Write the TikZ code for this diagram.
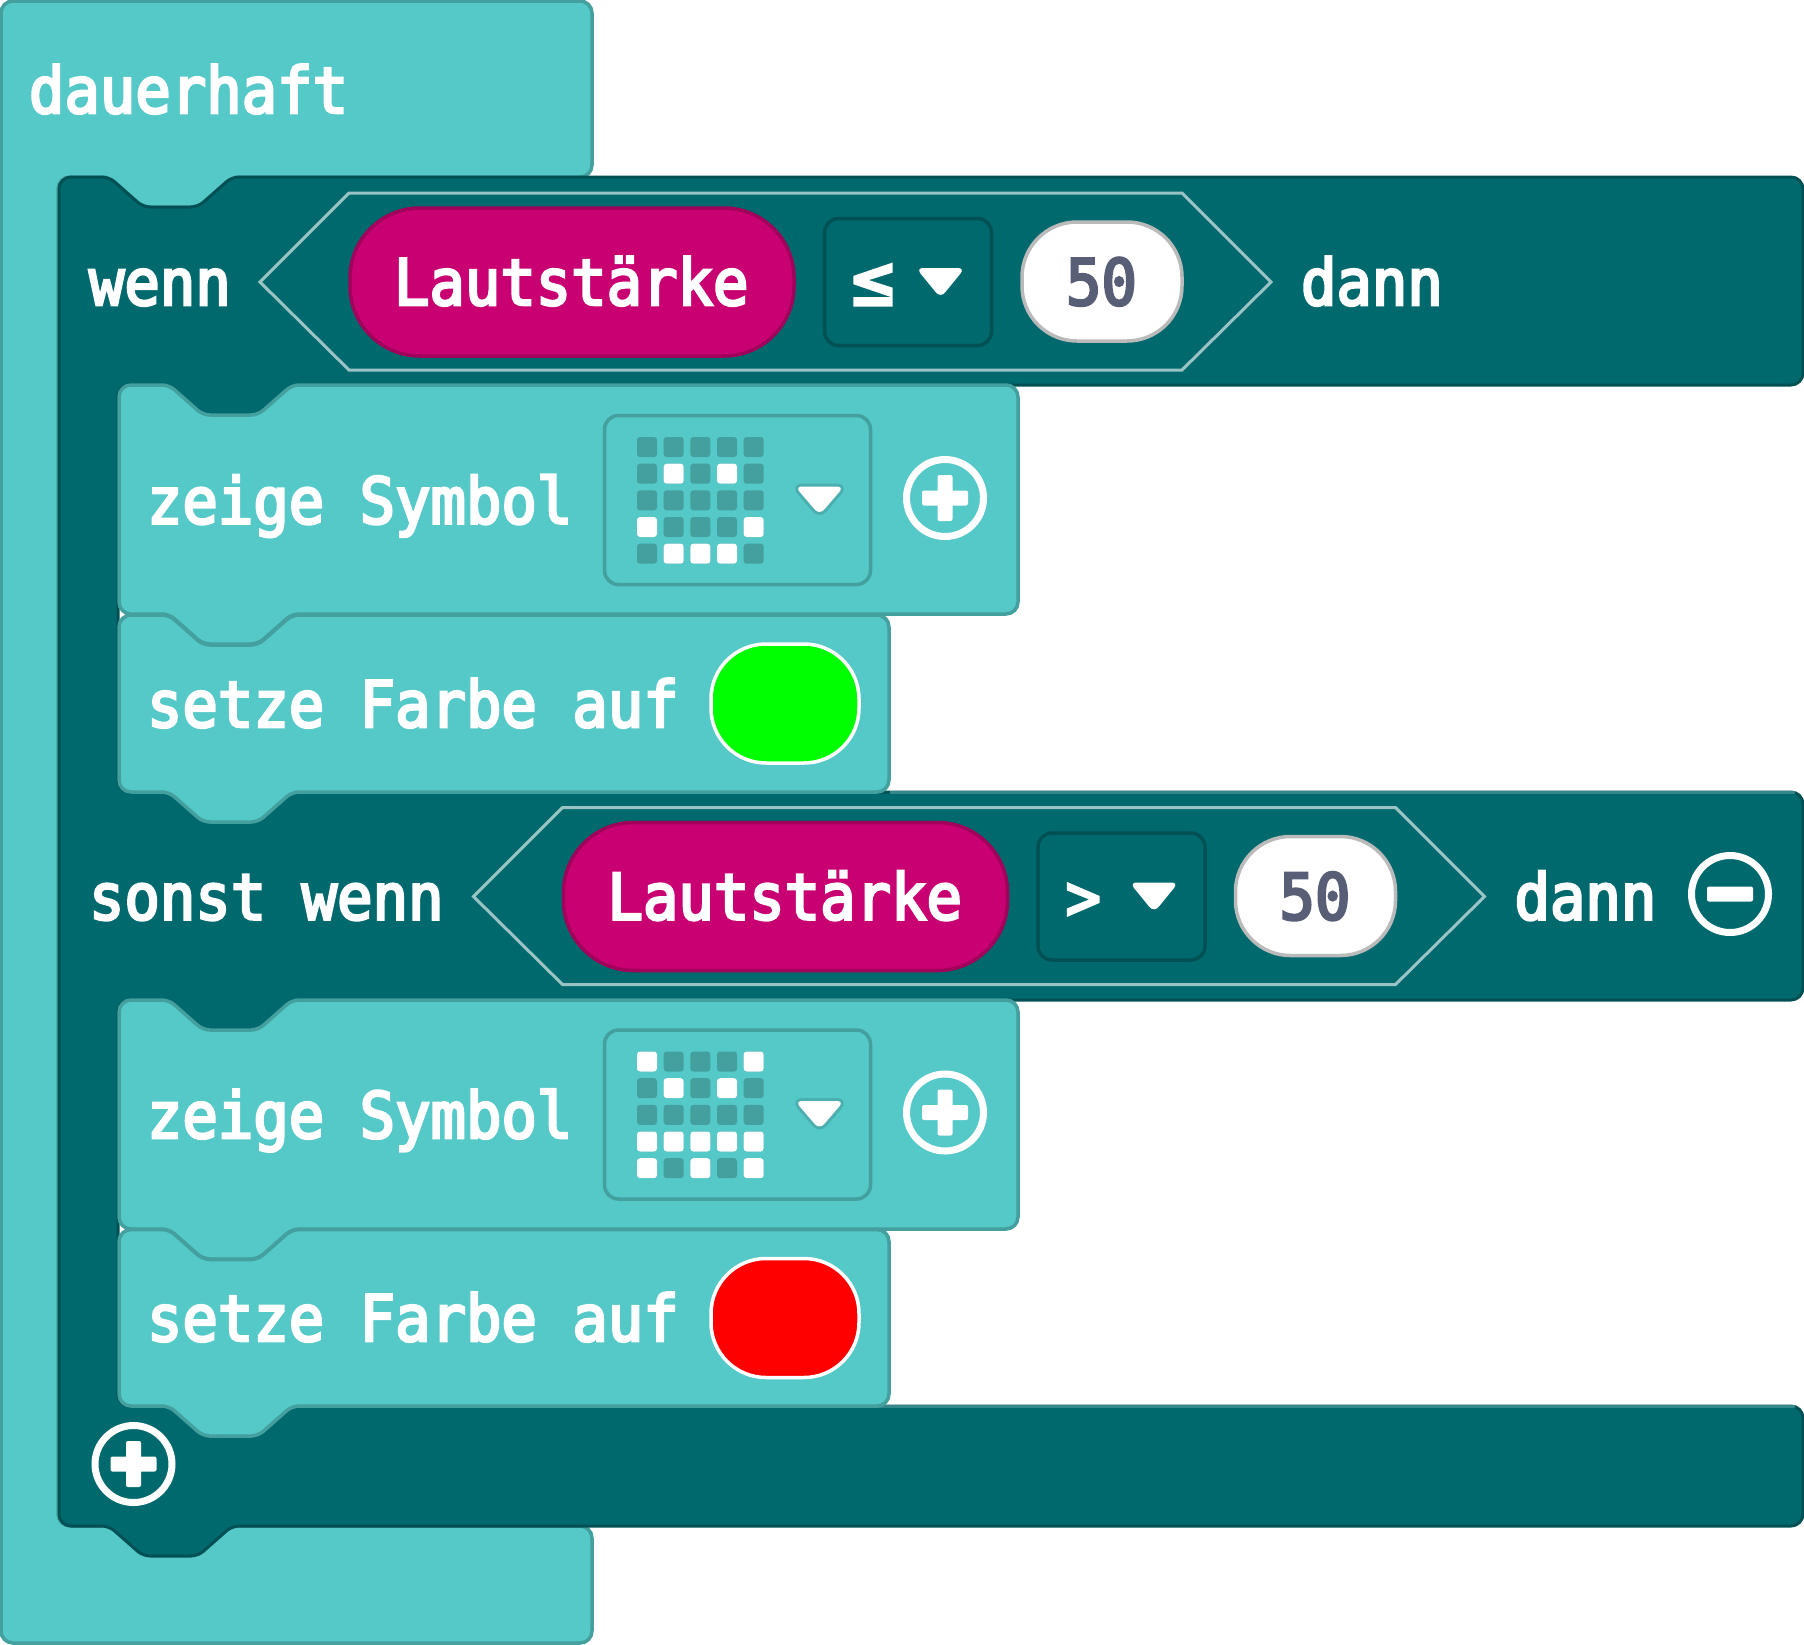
\documentclass[tikz,border=0pt]{standalone}
\usepackage{fontspec}
\newfontfamily\blockfont[FakeBold=4,FakeStretch=0.92]{DejaVu Sans Mono}
\definecolor{lightteal}{HTML}{55C8C8}
\definecolor{lightedge}{HTML}{449F9F}
\definecolor{darkteal}{HTML}{00696D}
\definecolor{darkedge}{HTML}{005054}
\definecolor{pinkfill}{HTML}{C90072}
\definecolor{pinkedge}{HTML}{A1005B}
\definecolor{numtext}{HTML}{575E75}
\definecolor{hexedge}{HTML}{99C3C5}
\definecolor{darkhi}{HTML}{33878A}
\tikzset{
  blocktext/.style={anchor=base west,inner sep=0pt,outer sep=0pt,text=white,font=\blockfont\fontsize{64}{66}\selectfont},
  numtextstyle/.style={blocktext,text=numtext},
  lightblock/.style={fill=lightteal,draw=lightedge,line width=3.5pt,rounded corners=12pt},
  darkblock/.style={fill=darkteal,draw=darkedge,line width=3pt,rounded corners=12pt},
  hexa/.style={draw=hexedge,line width=3pt,line join=miter},
  pinkpill/.style={fill=pinkfill,draw=pinkedge,line width=3.5pt,rounded corners=70pt},
  numpill/.style={fill=white,draw=black!27,line width=3.5pt,rounded corners=55pt},
  colorpill/.style={draw=white,line width=3.5pt,rounded corners=55pt},
  ddbox/.style={draw=darkedge,line width=3.5pt,rounded corners=14pt},
  imgbox/.style={draw=lightedge,line width=3.5pt,rounded corners=14pt},
  arrowwhite/.style={fill=white,rounded corners=7pt},
  arrowhalo/.style={fill=white,rounded corners=7pt,preaction={draw=lightedge!60!lightteal,line width=6pt,line join=round}},
  ring/.style={draw=white,line width=7pt},
  bar/.style={fill=white,rounded corners=2pt},
  cellon/.style={fill=white,rounded corners=3pt},
  celloff/.style={fill=lightedge,rounded corners=3pt},
}
% notch fragments at left offset #1 on the horizontal line y=#2
\newcommand{\notchR}[2]{[rounded corners=7pt] -- (#1+50,#2) -- (#1+84,#2+30) -- (#1+139,#2+30) -- (#1+173,#2) [rounded corners=12pt]}
\newcommand{\notchL}[2]{[rounded corners=7pt] -- (#1+173,#2) -- (#1+139,#2+30) -- (#1+84,#2+30) -- (#1+50,#2) [rounded corners=12pt]}
\newcommand{\condrow}[4]{%
  \begin{scope}[shift={(#1,#2)}]
    \draw[hexa] (260,282) -- (349,193) -- (1182,193) -- (1271,282) -- (1182,370) -- (349,370) -- cycle;
    \draw[pinkpill] (350,208) rectangle (794,356);
    \node[blocktext] (#4vol) at (394,305) {Lautstärke};
    \draw[ddbox] (824.5,218.5) rectangle (991.5,345.5);
    \node[blocktext] (#4cmp) at (852,305) {#3};
    \fill[arrowwhite] (916,268) -- (965,268) -- (940.5,298) -- cycle;
    \draw[numpill] (1022,222) rectangle (1182,341);
    \node[numtextstyle] (#4num) at (1066,305) {50};
    \node[blocktext] (#4dann) at (1301,305) {dann};
  \end{scope}}
\newcommand{\showrow}[2]{%
  \begin{scope}[shift={(0,#1)}]
    \node[blocktext] (#2text) at (147,523.5) {zeige Symbol};
    \draw[imgbox] (604.5,415.5) rectangle (870.5,584.5);
    \foreach \cx in {0,...,4}{\foreach \cy in {0,...,4}{
      \fill[celloff] (637+\cx*26.67,437+\cy*26.67) rectangle ++(20,20);}}
    \fill[arrowhalo] (795,486.5) -- (844,486.5) -- (819.5,515) -- cycle;
    \draw[ring] (945,498) circle (38.5);
    \fill[bar] (922,490.5) rectangle (968,505.5);
    \fill[bar] (937.5,475) rectangle (952.5,521);
  \end{scope}}
\newcommand{\litcell}[3]{\fill[cellon] (637+#1*26.67,437+#2*26.67+#3) rectangle ++(20,20);}
\begin{document}
\begin{tikzpicture}[x=1pt,y=-1pt]
\useasboundingbox (0,0) rectangle (1804,1644);
\fill[white] (0,0) rectangle (1804,1644);
% outer block
\draw[lightblock] (1,1) -- (592,1) -- (592,177) \notchL{59}{177} -- (58,177) -- (58,1526) -- (592,1526) -- (592,1643) -- (1,1643) -- cycle;
% dark if block
\draw[darkblock] (59,177) \notchR{59}{177} -- (1803,177) -- (1803,385) \notchL{119}{385} -- (118,385) -- (118,792)
   -- (1803,792) -- (1803,1000) \notchL{119}{1000} -- (118,1000) -- (118,1406) -- (1803,1406) -- (1803,1526) \notchL{59}{1526} -- (59,1526) -- cycle;
\draw[line width=3pt,draw=darkhi] (890,792) -- (1795,792);
\draw[line width=3pt,draw=darkhi] (290,1406.5) -- (1795,1406.5);
% statement blocks
\draw[lightblock] (119,385) \notchR{119}{385} -- (1018,385) -- (1018,614) \notchL{119}{614} -- (119,614) -- cycle;
\draw[lightblock] (119,615) \notchR{119}{615} -- (889,615) -- (889,792) \notchL{119}{792} -- (119,792) -- cycle;
\draw[lightblock] (119,1000) \notchR{119}{1000} -- (1018,1000) -- (1018,1229) \notchL{119}{1229} -- (119,1229) -- cycle;
\draw[lightblock] (119,1229.5) \notchR{119}{1229.5} -- (889,1229.5) -- (889,1406) \notchL{119}{1406} -- (119,1406) -- cycle;
% title
\node[blocktext] (title) at (29,113) {dauerhaft};
% first header
\node[blocktext] (wenn) at (89,305) {wenn};
\condrow{0}{0}{{\fontsize{76}{76}\selectfont ≤}}{a}
\node[blocktext] (sonst) at (89,919.5) {sonst wenn};
\condrow{213.5}{614.5}{>}{b}
\draw[ring] (1730,894) circle (38.5);
\fill[bar] (1707,886.5) rectangle (1753,901.5);
% symbols
\showrow{0}{sa}
\foreach \cx/\cy in {1/1,3/1,0/3,4/3,1/4,2/4,3/4} {\litcell{\cx}{\cy}{0}}
\node[blocktext] (fa) at (147,727) {setze Farbe auf};
\draw[colorpill,fill=green] (711,644) rectangle (859,763);
\showrow{614.5}{sb}
\foreach \cx/\cy in {0/0,4/0,1/1,3/1,0/3,1/3,2/3,3/3,4/3,0/4,2/4,4/4} {\litcell{\cx}{\cy}{614.5}}
\node[blocktext] (fb) at (147,1341) {setze Farbe auf};
\draw[colorpill,fill=red] (711,1258.5) rectangle (859,1377.5);
% bottom plus
\draw[ring] (133.5,1464) circle (38.5);
\fill[bar] (110.5,1456.5) rectangle (156.5,1471.5);
\fill[bar] (126,1441) rectangle (141,1487);
\end{tikzpicture}
\end{document}
